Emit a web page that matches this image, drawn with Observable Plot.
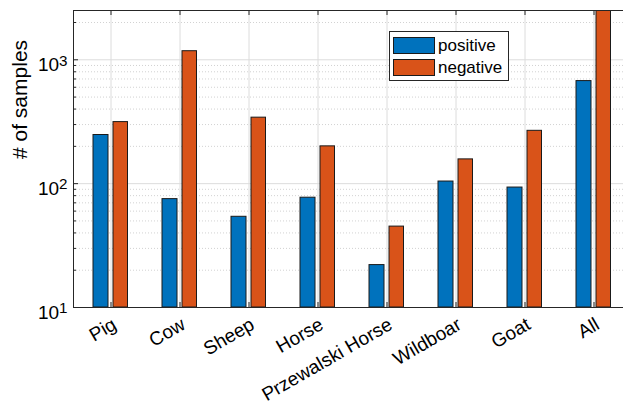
<!DOCTYPE html>
<html><head><meta charset="utf-8">
<script src="https://cdn.jsdelivr.net/npm/d3@7"></script>
<script src="https://cdn.jsdelivr.net/npm/@observablehq/plot@0.6"></script>
<style>
body{margin:0;background:#fff;font-family:"Liberation Sans",Arial,sans-serif;}
#wrap{position:relative;width:623px;height:407px;overflow:hidden;background:#fff;}
.legend{position:absolute;left:389px;top:31px;width:120px;height:50px;box-sizing:border-box;border:1px solid #262626;background:#fff;}
.item{position:absolute;left:3px;height:17px;display:flex;align-items:center;font-size:17px;color:#000;white-space:nowrap;}
.sw{width:42px;height:17px;border:1px solid #1a1a1a;box-sizing:border-box;margin-right:3px;}
</style></head><body><div id="wrap"></div>
<script>
const categories = ["Pig","Cow","Sheep","Horse","Przewalski Horse","Wildboar","Goat","All"];
const positive = [247, 75, 54, 77, 22, 104, 93, 673];
const negative = [314, 1173, 341, 200, 45, 157, 267, 2700];
const seriesNames = ["positive","negative"];
const seriesColors = ["#0072BD","#D95319"];
const yMajor = [10, 100, 1000];
const yMinor = [20,30,40,50,60,70,80,90,200,300,400,500,600,700,800,900,2000];
const yLabel = "# of samples";

const posRows = categories.map((c,i)=>({category:c, value:positive[i]}));
const negRows = categories.map((c,i)=>({category:c, value:negative[i]}));

const chart = Plot.plot({
  width: 623, height: 407,
  marginLeft: 73, marginTop: 10, marginBottom: 100, marginRight: -8,
  style: {fontFamily: "'Liberation Sans', Arial, sans-serif", background: "white"},
  x: {type: "band", domain: categories, padding: 0, axis: null},
  y: {type: "log", domain: [10, 2500], axis: null},
  marks: [
    Plot.gridY(yMinor, {stroke: "#d2d2d2", strokeOpacity: 1, strokeDasharray: "1,2"}),
    Plot.gridY(yMajor, {stroke: "#dcdcdc", strokeOpacity: 1}),
    Plot.ruleX(categories, {x: d => d, stroke: "#dcdcdc"}),
    Plot.barY(posRows, {x: "category", y1: 10, y2: "value", fill: seriesColors[0], stroke: "#1a1a1a", strokeWidth: 1, insetLeft: 17, insetRight: 37, clip: true}),
    Plot.barY(negRows, {x: "category", y1: 10, y2: "value", fill: seriesColors[1], stroke: "#1a1a1a", strokeWidth: 1, insetLeft: 37, insetRight: 17.5, clip: true}),
    Plot.frame({stroke: "#262626"}),
    Plot.tickX(categories, {x: d => d, stroke: "#262626", insetBottom: 292}),
    Plot.tickX(categories, {x: d => d, stroke: "#262626", insetTop: 292}),
    Plot.tickY(yMajor, {y: d => d, stroke: "#262626", insetRight: 553}),
    Plot.tickY(yMinor, {y: d => d, stroke: "#262626", insetRight: 555}),
    Plot.text(categories, {x: d => d, text: d => d, frameAnchor: "bottom", dy: 9, rotate: -30, textAnchor: "end", lineAnchor: "top", fontSize: 19, fill: "#000"}),
    Plot.text(yMajor, {y: d => d, text: d => "10^" + Math.round(Math.log10(d)), frameAnchor: "left", dx: -6, textAnchor: "end", fontSize: 19, fill: "#000"}),
    Plot.text([yLabel], {text: d => d, frameAnchor: "left", dx: -47, rotate: -90, lineAnchor: "bottom", fontSize: 21, fill: "#000"})
  ]
});

d3.select(chart).selectAll("text").each(function(){
  const m = /^10\^(\d+)$/.exec(this.textContent);
  if (!m) return;
  const t = d3.select(this);
  t.text(null);
  t.append("tspan").attr("dy", "0.28em").text("10");
  t.append("tspan").attr("dy", "-0.37em").attr("font-size", "0.8em").text(m[1]);
});

const wrap = document.getElementById("wrap");
wrap.appendChild(chart);

const legend = document.createElement("div");
legend.className = "legend";
seriesNames.forEach((name, i) => {
  const item = document.createElement("div");
  item.className = "item";
  item.style.top = (i === 0 ? 5 : 27) + "px";
  const sw = document.createElement("div");
  sw.className = "sw";
  sw.style.background = seriesColors[i];
  const label = document.createElement("span");
  label.textContent = name;
  item.appendChild(sw);
  item.appendChild(label);
  legend.appendChild(item);
});
wrap.appendChild(legend);
</script>
</body></html>
